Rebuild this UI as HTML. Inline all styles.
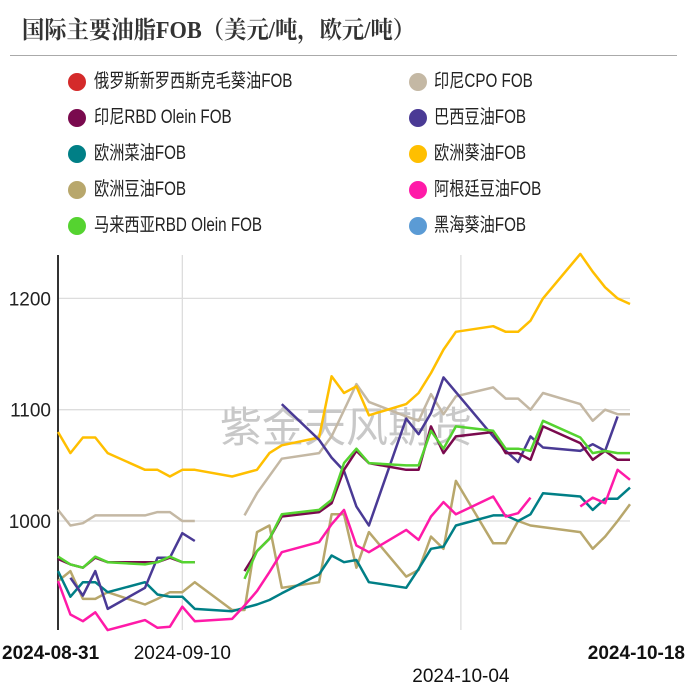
<!DOCTYPE html>
<html><head><meta charset="utf-8">
<style>
body{margin:0;background:#fff;width:692px;height:688px;overflow:hidden;font-family:"Liberation Sans","Noto Sans CJK SC",sans-serif;}
#title{position:absolute;left:22px;top:10px;font-family:"Liberation Serif","Noto Serif CJK SC",serif;font-weight:bold;font-size:24px;color:#333;white-space:nowrap;transform:scaleX(0.93);transform-origin:left top;}
#rule{position:absolute;left:10px;top:55px;width:667px;height:1px;background:#aaa;}
.dot{position:absolute;width:18px;height:18px;border-radius:50%;}
.lg{position:absolute;font-size:19px;color:#222;white-space:nowrap;height:24px;line-height:24px;transform:scaleX(0.8);transform-origin:left center;}
svg{position:absolute;left:0;top:0;}
</style></head><body>
<div id="title">国际主要油脂FOB（美元/吨，欧元/吨）</div>
<div id="rule"></div>
<div id="legend"></div>
<svg id="chart" width="692" height="688"></svg>
<script>
const categories=[];for(let i=0;i<=46;i++)categories.push(i);
const tickValues=[1000,1100,1200];
const xTickLabels=["2024-08-31","2024-09-10","2024-10-04","2024-10-18"];
const xTickIdx=[0,10,32.4,46];
const seriesNames=["俄罗斯新罗西斯克毛葵油FOB","印尼CPO FOB","印尼RBD Olein FOB","巴西豆油FOB","欧洲菜油FOB","欧洲葵油FOB","欧洲豆油FOB","阿根廷豆油FOB","马来西亚RBD Olein FOB","黑海葵油FOB"];
const seriesColors=["#d42a2a","#c4b8a4","#7a0a4e","#4a3a95","#007f86","#ffbf00","#b8a76c","#ff1aa8","#55d330","#5b9bd5"];
const russia=[];
const cpo=[[0,1010],[1,996],[2,998],[3,1005],[4,1005],[7,1005],[8,1008],[9,1008],[10,1000],[11,1000],null,[15,1005],[16,1025],[18,1056],[21,1061],[22,1076],[24,1123],[25,1107],[28,1094],[29,1090],[30,1114],[31,1096],[32,1112],[35,1120],[36,1110],[37,1110],[38,1100],[39,1115],[42,1105],[43,1090],[44,1100],[45,1096],[46,1096]];
const olein=[[0,966],[1,961],[2,958],[3,967],[4,963],[7,963],[8,963],[9,967],[10,963],[11,963],null,[15,955],[16,973],[17,984],[18,1004],[21,1008],[22,1016],[23,1046],[24,1063],[25,1052],[28,1046],[29,1046],[30,1085],[31,1061],[32,1076],[35,1080],[36,1061],[37,1061],[38,1055],[39,1085],[42,1070],[43,1055],[44,1063],[45,1055],[46,1055]];
const brazil=[[1,949],[2,933],[3,955],[4,921],[7,940],[8,967],[9,967],[10,989],[11,982],null,[18,1105],[21,1073],[22,1057],[23,1045],[24,1013],[25,996],[28,1092],[29,1078],[30,1097],[31,1129],[35,1076],[36,1063],[37,1053],[38,1076],[39,1066],[42,1063],[43,1069],[44,1063],[45,1094]];
const euRape=[[0,955],[1,932],[2,945],[3,945],[4,936],[7,945],[8,934],[9,932],[10,932],[11,921],[14,919],[15,922],[16,925],[17,929],[18,935],[21,952],[22,969],[23,963],[24,965],[25,945],[28,940],[29,957],[30,975],[31,977],[32,996],[35,1005],[36,1005],[37,1000],[38,1006],[39,1025],[42,1022],[43,1010],[44,1020],[45,1020],[46,1030]];
const euSun=[[0,1080],[1,1061],[2,1075],[3,1075],[4,1061],[7,1046],[8,1046],[9,1040],[10,1046],[11,1046],[14,1040],[16,1046],[17,1061],[18,1068],[21,1075],[22,1130],[23,1115],[24,1121],[25,1095],[28,1105],[29,1115],[30,1133],[31,1154],[32,1170],[35,1175],[36,1170],[37,1170],[38,1180],[39,1200],[42,1240],[43,1224],[44,1210],[45,1200],[46,1195]];
const euSoy=[[0,946],[1,955],[2,930],[3,930],[4,936],[7,925],[8,930],[9,936],[10,936],[11,945],[14,920],[15,920],[16,990],[17,996],[18,940],[21,945],[22,1006],[23,1006],[24,958],[25,990],[28,950],[29,956],[30,986],[31,975],[32,1036],[35,980],[36,980],[37,1000],[38,996],[42,990],[43,975],[44,986],[45,1000],[46,1015]];
const argSoy=[[0,946],[1,916],[2,910],[3,918],[4,902],[7,911],[8,904],[9,905],[10,923],[11,910],[14,912],[15,924],[16,937],[17,954],[18,972],[21,981],[22,997],[23,1010],[24,978],[25,972],[28,992],[29,983],[30,1004],[31,1017],[32,1006],[35,1022],[36,1004],[37,1007],[38,1021],null,[42,1013],[43,1021],[44,1016],[45,1046],[46,1037]];
const malay=[[0,968],[1,961],[2,958],[3,968],[4,963],[7,961],[8,963],[9,968],[10,963],[11,963],null,[15,948],[16,973],[17,984],[18,1006],[21,1010],[22,1019],[23,1052],[24,1065],[25,1052],[28,1050],[29,1050],[30,1081],[31,1065],[32,1085],[35,1081],[36,1065],[37,1065],[38,1063],[39,1090],[42,1075],[43,1061],[44,1063],[45,1061],[46,1061]];
const blackSea=[];
const allSeries=[russia,cpo,olein,brazil,euRape,euSun,euSoy,argSoy,malay,blackSea];
const drawOrder=[1,5,6,4,7,3,2,8,0,9];

const X0=58,X1=630,Y0=630,Ytop=255;
function xs(i){return X0+(i-categories[0])*(X1-X0)/(categories[categories.length-1]-categories[0]);}
function ys(v){return 521-(v-1000)*1.113;}
const NS="http://www.w3.org/2000/svg";
const svg=document.getElementById('chart');
function el(t,a){const e=document.createElementNS(NS,t);for(const k in a)e.setAttribute(k,a[k]);svg.appendChild(e);return e;}

const leg=document.getElementById('legend');
seriesNames.forEach((n,i)=>{
  const top=70+Math.floor(i/2)*36;
  const dot=document.createElement('div');dot.className='dot';
  
  
  dot.style.left=(i%2===0?68:409)+'px';dot.style.top=(top+3)+'px';dot.style.background=seriesColors[i];
  leg.appendChild(dot);
  const d=document.createElement('div');d.className='lg';
  
  
  d.style.left=(i%2===0?94:434)+'px';d.style.top=top+'px';
  d.textContent=n;
  leg.appendChild(d);
});

tickValues.forEach(v=>{
  const g=el('line',{x1:X0,x2:X1,y1:ys(v),y2:ys(v),stroke:'#ddd','stroke-width':1.3});
  
  
  const t=el('text',{x:51,y:ys(v)+7,'text-anchor':'end','font-size':19,fill:'#222'});
  
  
  t.textContent=v;
});
[1,2].forEach(k=>{
  const g=el('line',{x1:xs(xTickIdx[k]),x2:xs(xTickIdx[k]),y1:Ytop,y2:Y0,stroke:'#ddd','stroke-width':1.3});
  
  
});
const wm=el('text',{x:220,y:442,'font-size':42,fill:'#c8c8c8','font-family':'"Noto Sans CJK SC",sans-serif'});


wm.textContent='紫金天风期货';
const ax=el('line',{x1:X0,x2:X0,y1:Ytop,y2:Y0,stroke:'#333','stroke-width':2});


const xl=[{a:'start',x:2,y:659,b:true},{a:'middle',x:xs(xTickIdx[1]),y:659,b:false},{a:'middle',x:xs(xTickIdx[2]),y:682,b:false},{a:'end',x:685,y:659,b:true}];
xl.forEach((o,k)=>{
  const t=el('text',{x:o.x,y:o.y,'text-anchor':o.a,'font-size':19,fill:'#111','font-weight':o.b?'bold':'normal'});
  
  
  t.textContent=xTickLabels[k];
});
drawOrder.forEach(si=>{
  const s=allSeries[si];let d='',pen=false;
  s.forEach(p=>{if(!p){pen=false;return;}d+=(pen?'L':'M')+xs(p[0]).toFixed(1)+' '+ys(p[1]).toFixed(1);pen=true;});
  if(!d)return;
  const path=el('path',{d:d,fill:'none',stroke:seriesColors[si],'stroke-width':2.5,'stroke-linejoin':'round'});
  
  
});
</script>
</body></html>
